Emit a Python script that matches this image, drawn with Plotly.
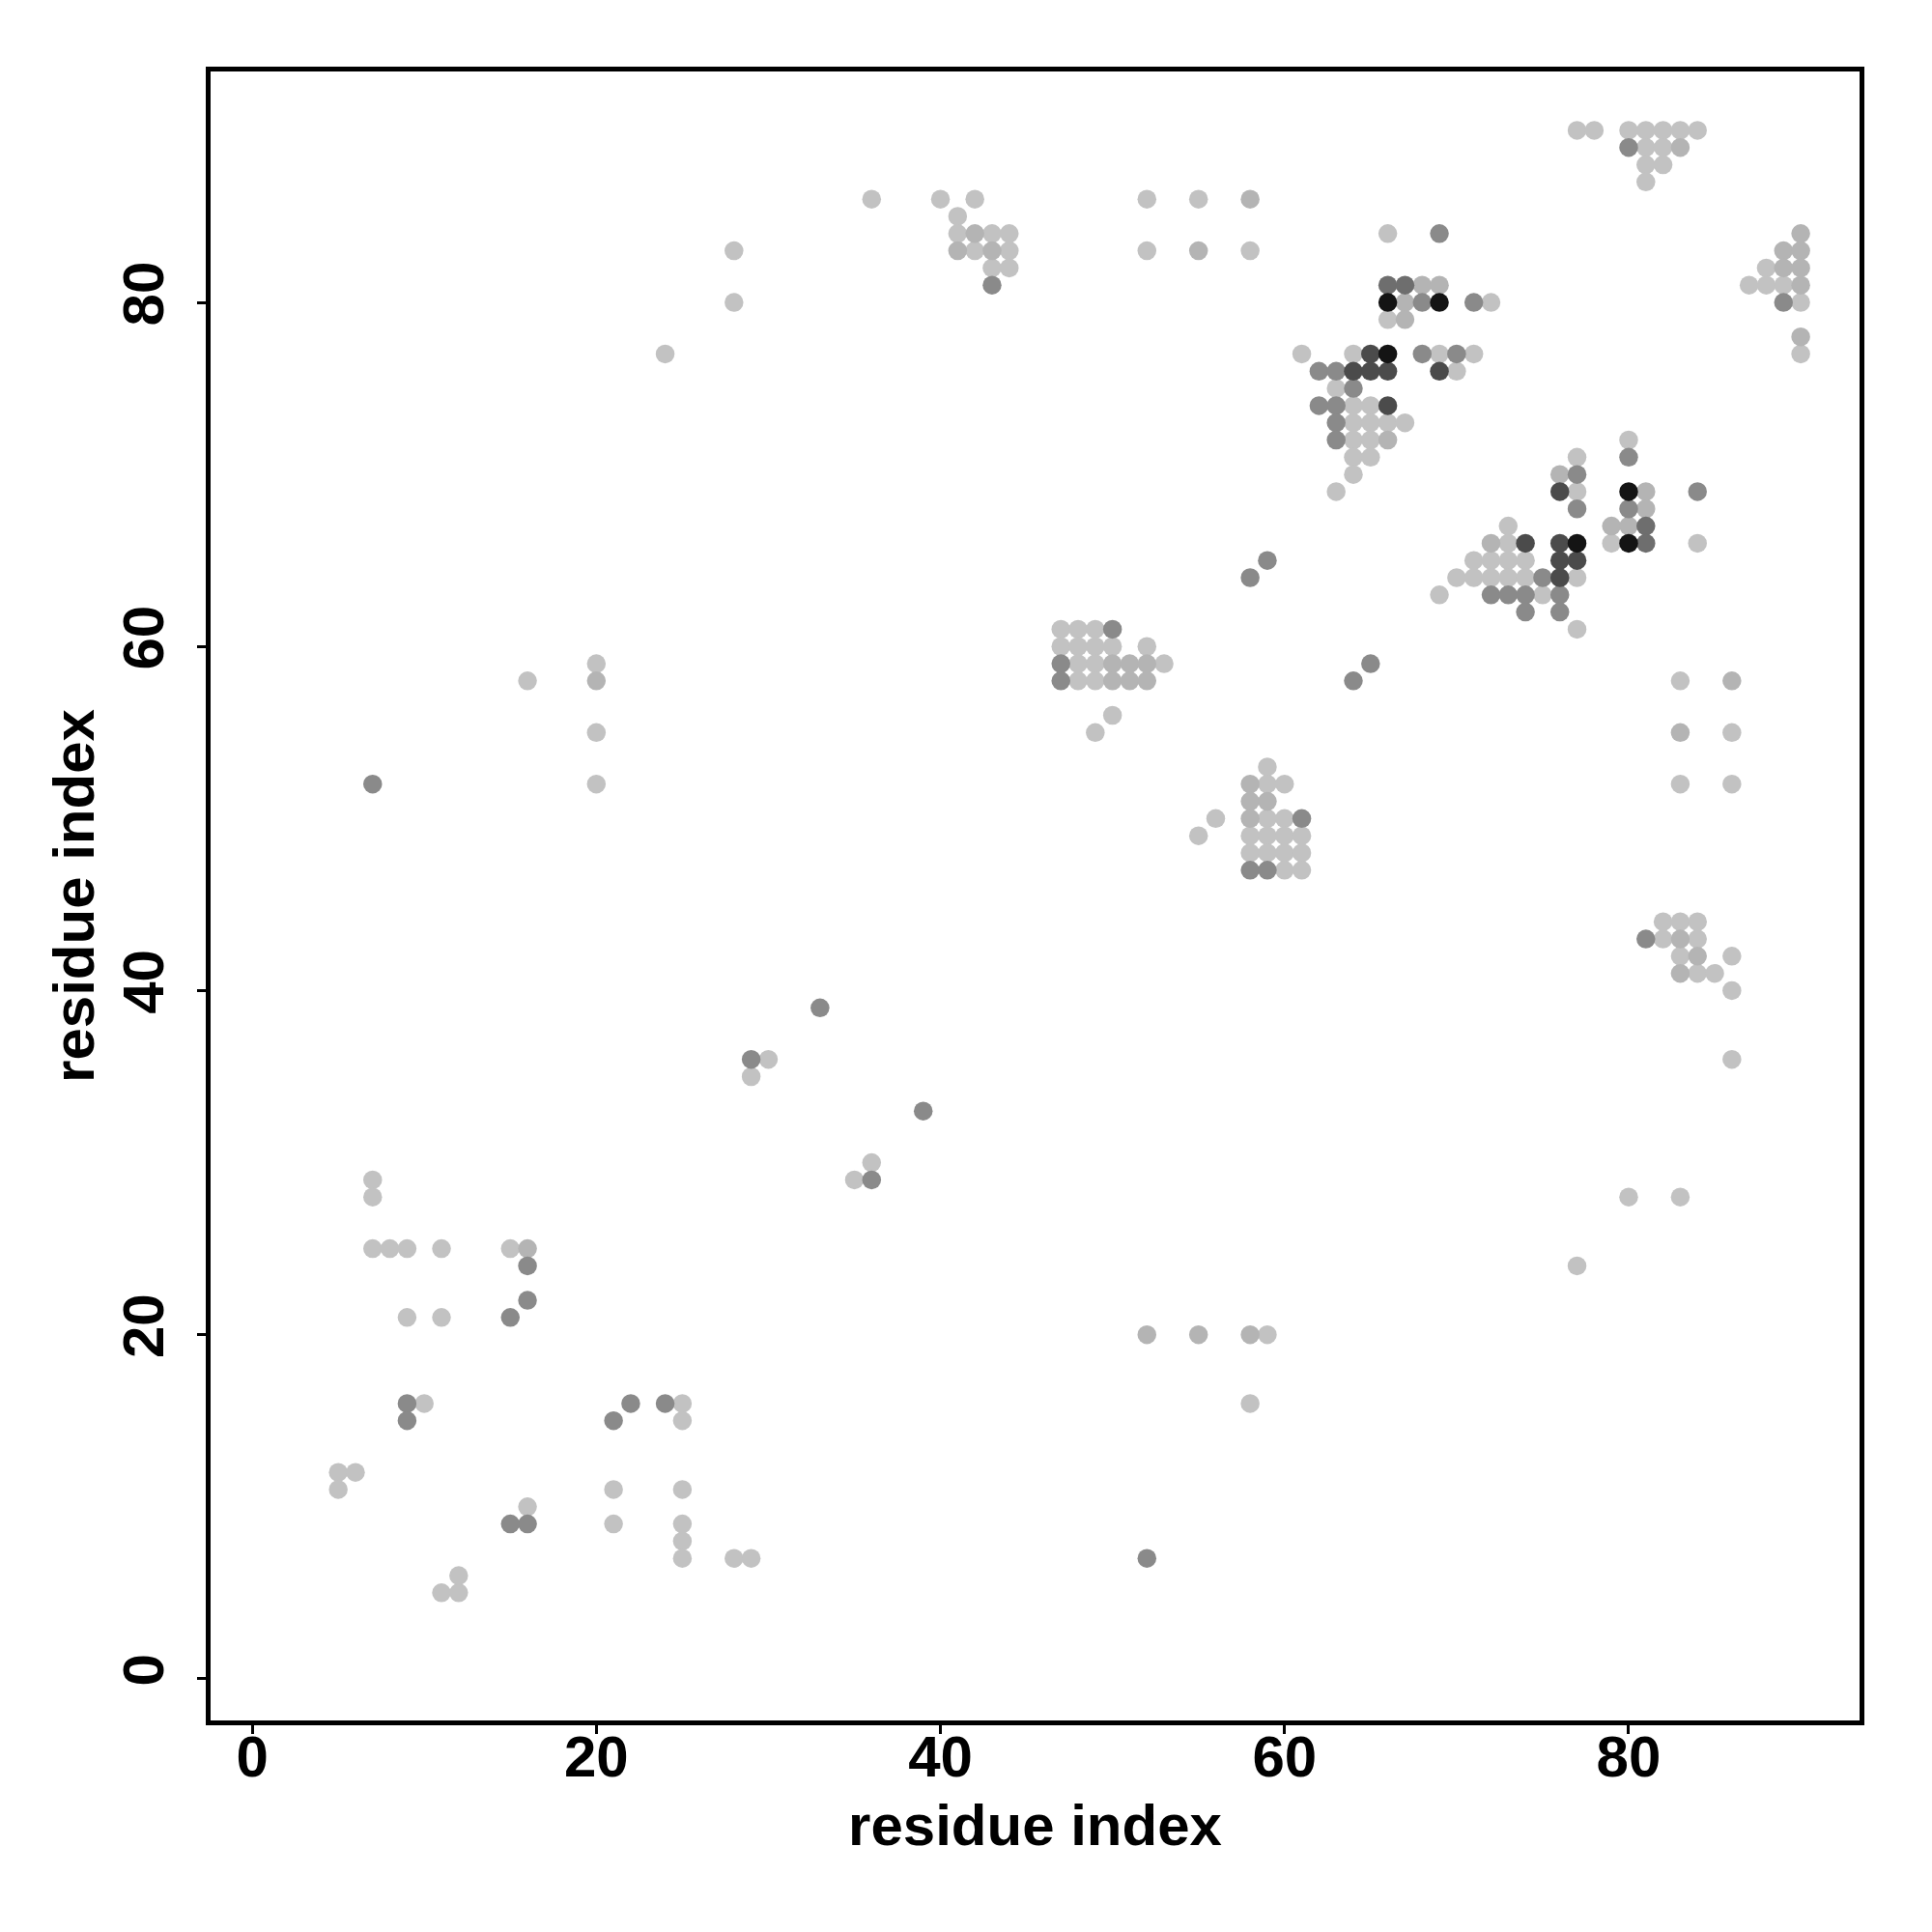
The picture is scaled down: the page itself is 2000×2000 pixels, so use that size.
import plotly.graph_objects as go

# contact map: residue i, residue j, contact strength level (1 = weak/light ... 6 = strong/black)
res_i = [
    5, 6, 5, 11, 12, 12, 15, 16, 16, 21, 21, 25, 24, 25, 25, 25, 25, 25, 28, 29,
    21, 22, 9, 10, 9, 9, 11, 7, 8, 9, 11, 7, 7, 15, 16, 16, 16, 15,
    7, 16, 20, 20, 20, 20, 24, 28, 28, 36, 33, 29, 30, 29, 39, 35, 36, 36,
    40, 42, 41, 41, 42, 43, 44, 41, 42, 43, 44, 43, 44, 43, 52, 55, 58, 52, 55, 58,
    47, 48, 49, 50, 47, 48, 49, 50, 52, 47, 48, 49, 50, 51, 52, 53, 47, 48, 49, 50, 51, 52, 50, 49,
    59, 58, 59, 60, 58, 59, 58, 59, 60, 61, 58, 59, 60, 61, 58, 59, 60, 61, 58, 59, 60, 61, 56, 55,
    58, 59, 64, 65,
    66, 69, 66, 67, 68, 69, 66, 67, 68, 69, 71, 72, 66, 67,
    61, 64, 65, 66, 68, 69, 70, 71, 62, 63, 64, 65, 66, 69, 70, 63, 64,
    62, 63, 64, 65, 66, 63, 64, 65, 66, 67, 63, 64, 65, 66, 64, 65, 64, 63,
    80, 80, 77, 76, 77, 76, 77, 80, 81, 84, 77, 80, 81, 73, 79, 80, 81,
    72, 73, 74, 76, 77, 79, 80, 81, 84, 71, 72, 73, 74, 76, 77,
    70, 71, 72, 73, 74, 75, 76, 77, 69, 72, 73, 74, 75, 76, 74, 76, 77,
    77, 78, 80, 81, 82, 83, 84, 80, 81, 82, 83, 81, 82, 81,
    90, 89, 90, 88, 89, 90, 87, 88, 89, 90, 89, 90, 90, 90,
    83, 86, 83, 86, 83, 86, 82, 83, 84, 81, 82, 83, 84, 83, 84, 86, 83, 84, 85, 86, 86,
    80, 83, 77,
    52, 55, 58, 59, 58, 52,
]
res_j = [
    12, 12, 11, 5, 5, 6, 9, 9, 10, 11, 9, 16, 16, 15, 11, 9, 8, 7, 7, 7,
    15, 16, 16, 16, 15, 21, 21, 25, 25, 25, 25, 29, 28, 25, 25, 24, 22, 21,
    52, 58, 59, 58, 55, 52, 77, 83, 80, 86, 39, 36, 36, 35, 33, 29, 30, 29,
    86, 86, 85, 84, 84, 84, 84, 83, 83, 83, 83, 82, 82, 81, 86, 86, 86, 83, 83, 83,
    61, 61, 61, 61, 60, 60, 60, 60, 60, 59, 59, 59, 59, 59, 59, 59, 58, 58, 58, 58, 58, 58, 56, 55,
    53, 52, 52, 52, 51, 51, 50, 50, 50, 50, 49, 49, 49, 49, 48, 48, 48, 48, 47, 47, 47, 47, 50, 49,
    64, 65, 58, 59,
    84, 84, 81, 81, 81, 81, 80, 80, 80, 80, 80, 80, 79, 79,
    77, 77, 77, 77, 77, 77, 77, 77, 76, 76, 76, 76, 76, 76, 76, 75, 75,
    74, 74, 74, 74, 74, 73, 73, 73, 73, 73, 72, 72, 72, 72, 71, 71, 70, 69,
    72, 71, 71, 70, 70, 69, 69, 69, 69, 69, 68, 68, 68, 67, 67, 67, 67,
    66, 66, 66, 66, 66, 66, 66, 66, 66, 65, 65, 65, 65, 65, 65,
    64, 64, 64, 64, 64, 64, 64, 64, 63, 63, 63, 63, 63, 63, 62, 62, 61,
    90, 90, 90, 90, 90, 90, 90, 89, 89, 89, 89, 88, 88, 87,
    84, 83, 83, 82, 82, 82, 81, 81, 81, 81, 80, 80, 78, 77,
    58, 58, 55, 55, 52, 52, 44, 44, 44, 43, 43, 43, 43, 42, 42, 42, 41, 41, 41, 40, 36,
    28, 28, 24,
    20, 20, 20, 20, 16, 7,
]
strength = [
    1, 1, 1, 1, 1, 1, 3, 3, 1, 1, 1, 1, 3, 1, 1, 1, 1, 1, 1, 1,
    3, 3, 3, 1, 3, 1, 1, 1, 1, 1, 1, 1, 1, 1, 2, 3, 3, 3,
    3, 1, 1, 2, 1, 1, 1, 1, 1, 1, 3, 3, 1, 1, 3, 1, 1, 3,
    1, 1, 1, 1, 2, 1, 1, 2, 1, 2, 1, 1, 1, 3, 1, 1, 2, 1, 2, 1,
    1, 1, 1, 3, 1, 1, 1, 1, 1, 3, 1, 1, 2, 2, 2, 1, 3, 1, 1, 2, 2, 2, 1, 1,
    1, 2, 1, 1, 2, 2, 2, 1, 1, 3, 1, 1, 1, 1, 1, 1, 1, 1, 3, 3, 1, 1, 1, 1,
    3, 3, 3, 3,
    1, 3, 4, 4, 2, 2, 6, 2, 3, 6, 3, 1, 1, 2,
    1, 1, 5, 6, 3, 1, 3, 1, 3, 3, 5, 5, 5, 5, 1, 1, 3,
    3, 3, 1, 1, 5, 3, 1, 1, 1, 1, 3, 1, 1, 2, 1, 1, 1, 1,
    1, 3, 1, 2, 3, 5, 1, 6, 2, 3, 3, 3, 2, 1, 2, 2, 4,
    2, 1, 5, 5, 6, 1, 6, 4, 1, 1, 1, 1, 1, 5, 5,
    1, 1, 1, 1, 1, 3, 5, 1, 1, 3, 3, 3, 1, 3, 3, 3, 1,
    1, 1, 1, 1, 1, 1, 1, 3, 1, 1, 2, 1, 1, 1,
    2, 2, 2, 1, 2, 2, 1, 1, 1, 2, 3, 1, 2, 1,
    1, 2, 2, 1, 1, 1, 1, 1, 1, 3, 1, 2, 1, 1, 2, 1, 2, 1, 1, 1, 1,
    1, 1, 1,
    2, 2, 2, 1, 1, 3,
]

tick_vals = [0, 20, 40, 60, 80]
axis_title = "residue index"

shade_of_level = {1: "#c2c2c2", 2: "#b4b4b4", 3: "#8a8a8a", 4: "#6e6e6e", 5: "#4b4b4b", 6: "#141414"}

fig = go.Figure()
for lvl in sorted(shade_of_level):
    xs = [a for a, s in zip(res_i, strength) if s == lvl]
    ys = [b for b, s in zip(res_j, strength) if s == lvl]
    fig.add_trace(go.Scatter(
        x=xs, y=ys, mode="markers",
        marker=dict(size=19.5, color=shade_of_level[lvl], line=dict(width=0)),
        showlegend=False, hoverinfo="x+y",
    ))

font_family = "Liberation Sans, Arial, Helvetica, sans-serif"
axis_common = dict(
    range=[-2.42, 93.42],
    tickvals=tick_vals,
    ticks="outside", ticklen=9, tickwidth=3, tickcolor="black",
    showline=True, linewidth=5, linecolor="black", mirror=True,
    showgrid=False, zeroline=False,
    tickfont=dict(family=font_family, size=60, color="black", weight="bold"),
    automargin=False,
)

fig.update_layout(
    width=2000, height=2000,
    margin=dict(l=210, r=83, t=66, b=227),
    plot_bgcolor="white", paper_bgcolor="white",
    xaxis=dict(**axis_common, ticklabelstandoff=-28,
               title=dict(text=axis_title, standoff=18,
                          font=dict(family=font_family, size=60, color="black", weight="bold"))),
    yaxis=dict(**axis_common, tickangle=-90, ticklabelstandoff=11,
               title=dict(text=axis_title, standoff=0,
                          font=dict(family=font_family, size=60, color="black", weight="bold"))),
)

fig.write_html("out.html")
